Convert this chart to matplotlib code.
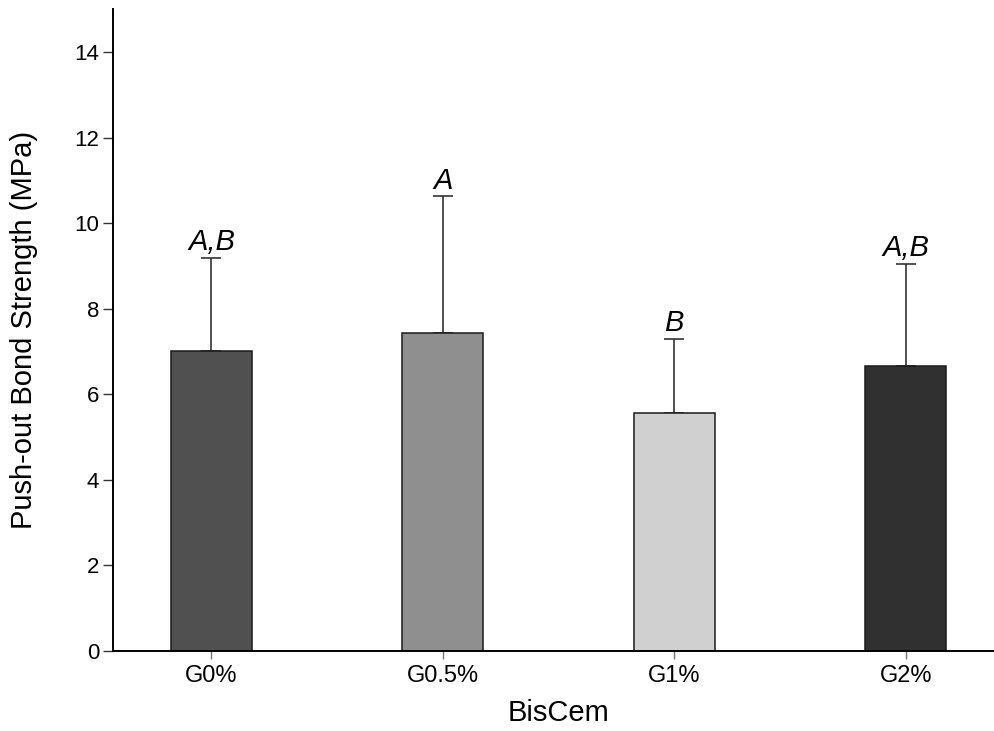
import numpy as np
import matplotlib.pyplot as plt

plt.rcParams['font.family'] = ['Liberation Sans', 'DejaVu Sans']

groups = ['G0%', 'G0.5%', 'G1%', 'G2%']
means = [7.02, 7.43, 5.56, 6.66]
sd = [2.17, 3.20, 1.74, 2.39]
letters = ['A,B', 'A', 'B', 'A,B']
colors = ['#505050', '#8f8f8f', '#d0d0d0', '#303030']


def main():
    fig = plt.figure(figsize=(9.95, 7.31), dpi=100)
    ax = fig.add_axes([0.1136, 0.1094, 0.8955, 0.8779])

    x = np.arange(len(groups))
    ax.bar(x, means, width=0.35, color=colors, edgecolor='#1a1a1a', linewidth=1.1, zorder=2)
    ax.errorbar(x, means, yerr=[np.zeros(len(sd)), sd], fmt='none', ecolor='#333333',
                elinewidth=1.2, capsize=7, capthick=1.2, zorder=1)

    for xi, m, s, lab in zip(x, means, sd, letters):
        ax.annotate(lab, (xi, m + s), xytext=(0, 1), textcoords='offset points',
                    ha='center', va='bottom', fontsize=21, style='italic')

    ax.set_xlim(-0.425, 3.425)
    ax.set_ylim(0, 15)
    ax.set_yticks(np.arange(0, 15, 2))
    ax.set_xticks(x)
    ax.set_xticklabels(groups)
    ax.tick_params(axis='y', labelsize=16, length=7, width=1, color='#333333', pad=3)
    ax.tick_params(axis='x', labelsize=17, length=6, width=1, color='#777777', pad=4)

    ax.spines['top'].set_visible(False)
    ax.spines['right'].set_visible(False)
    ax.spines['left'].set_linewidth(1.4)
    ax.spines['bottom'].set_linewidth(1.4)

    ax.set_xlabel('BisCem', fontsize=21, labelpad=9)
    ax.set_ylabel('Push-out Bond Strength (MPa)', fontsize=21)
    ax.yaxis.set_label_coords(-0.084, 0.5)

    fig.savefig('out.png', dpi=100)


if __name__ == '__main__':
    main()
